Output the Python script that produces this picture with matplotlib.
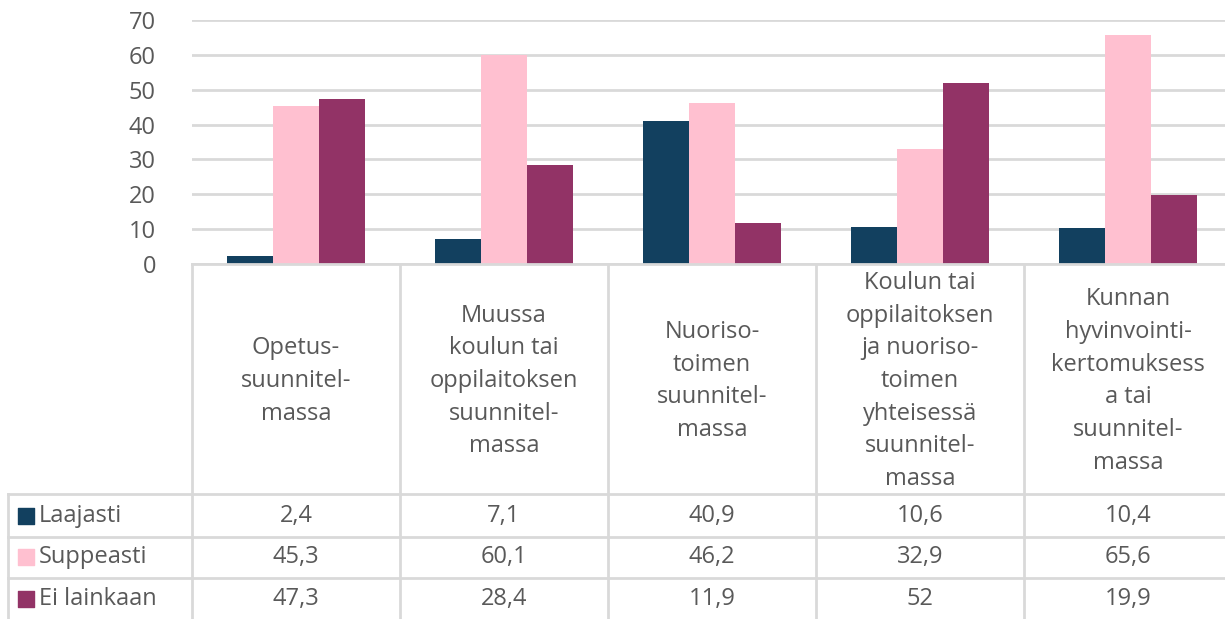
import matplotlib
matplotlib.use("Agg")
import matplotlib.pyplot as plt
import numpy as np

categories = [
    "Opetus-\nsuunnitel-\nmassa",
    "Muussa\nkoulun tai\noppilaitoksen\nsuunnitel-\nmassa",
    "Nuoriso-\ntoimen\nsuunnitel-\nmassa",
    "Koulun tai\noppilaitoksen\nja nuoriso-\ntoimen\nyhteisessä\nsuunnitel-\nmassa",
    "Kunnan\nhyvinvointi-\nkertomuksess\na tai\nsuunnitel-\nmassa",
]
series_names = ["Laajasti", "Suppeasti", "Ei lainkaan"]
laajasti = [2.4, 7.1, 40.9, 10.6, 10.4]
suppeasti = [45.3, 60.1, 46.2, 32.9, 65.6]
ei_lainkaan = [47.3, 28.4, 11.9, 52, 19.9]
colors = ["#12405F", "#FFC0D0", "#923366"]
yticks = [0, 10, 20, 30, 40, 50, 60, 70]

plt.rcParams['font.family'] = ['Open Sans', 'DejaVu Sans']
TXT = "#595959"
GRID = "#D9D9D9"
FS = 17

W, H = 1225, 619
fig = plt.figure(figsize=(W / 100, H / 100), dpi=100)
px_left, px_right, px_top, px_bottom = 192, 1232, 20, 264
ax = fig.add_axes([px_left / W, 1 - px_bottom / H, (px_right - px_left) / W, (px_bottom - px_top) / H])

x = np.arange(len(categories))
bw = 0.22
all_series = [laajasti, suppeasti, ei_lainkaan]
for i, (vals, c) in enumerate(zip(all_series, colors)):
    ax.bar(x + (i - 1) * bw, vals, width=bw, color=c, zorder=3)

ax.set_xlim(-0.5, 4.5)
ax.set_ylim(0, 70)
ax.set_yticks(yticks)
ax.set_yticklabels([str(t) for t in yticks], fontsize=FS, color=TXT)
ax.tick_params(axis='y', length=0, pad=26)
ax.set_xticks([])
ax.grid(axis='y', color=GRID, linewidth=2, zorder=0)
for s in ax.spines.values():
    s.set_visible(False)

# conversions from pixel to data
ppu_y = (px_bottom - px_top) / 70.0
ppu_x = (px_right - px_left) / 5.0
def ydat(py):
    return (px_bottom - py) / ppu_y
def xdat(px):
    return -0.5 + (px - px_left) / ppu_x

row_lines = [494, 537, 578]
y_end = ydat(640)
x_tab_left = xdat(8)
x_end = xdat(1240)
lw = 2
# x axis line
ax.plot([-0.5, x_end], [0, 0], color=GRID, lw=lw, clip_on=False, zorder=4)
# header vertical lines
for xv in [-0.5, 0.5, 1.5, 2.5, 3.5, 4.5]:
    ax.plot([xv, xv], [0, y_end], color=GRID, lw=lw, clip_on=False, zorder=4)
# legend column left line
ax.plot([x_tab_left, x_tab_left], [ydat(row_lines[0]), y_end], color=GRID, lw=lw, clip_on=False)
for ry in row_lines:
    ax.plot([x_tab_left, x_end], [ydat(ry), ydat(ry)], color=GRID, lw=lw, clip_on=False)

# header labels
for xi, cat in zip(x, categories):
    ax.text(xi, ydat(381), cat, ha='center', va='center', fontsize=FS, color=TXT,
            linespacing=1.48, clip_on=False)

# rows
row_centers = [516, 557, 599]
for name, vals, c, ry in zip(series_names, all_series, colors, row_centers):
    ax.scatter([xdat(26)], [ydat(ry)], marker='s', s=130, color=c, clip_on=False, zorder=5)
    ax.text(xdat(39), ydat(ry), name, ha='left', va='center', fontsize=FS, color=TXT, clip_on=False)
    for xi, v in zip(x, vals):
        lab = (f"{v:g}").replace('.', ',')
        ax.text(xi, ydat(ry), lab, ha='center', va='center', fontsize=FS, color=TXT, clip_on=False)

fig.savefig("out.png", dpi=100)
